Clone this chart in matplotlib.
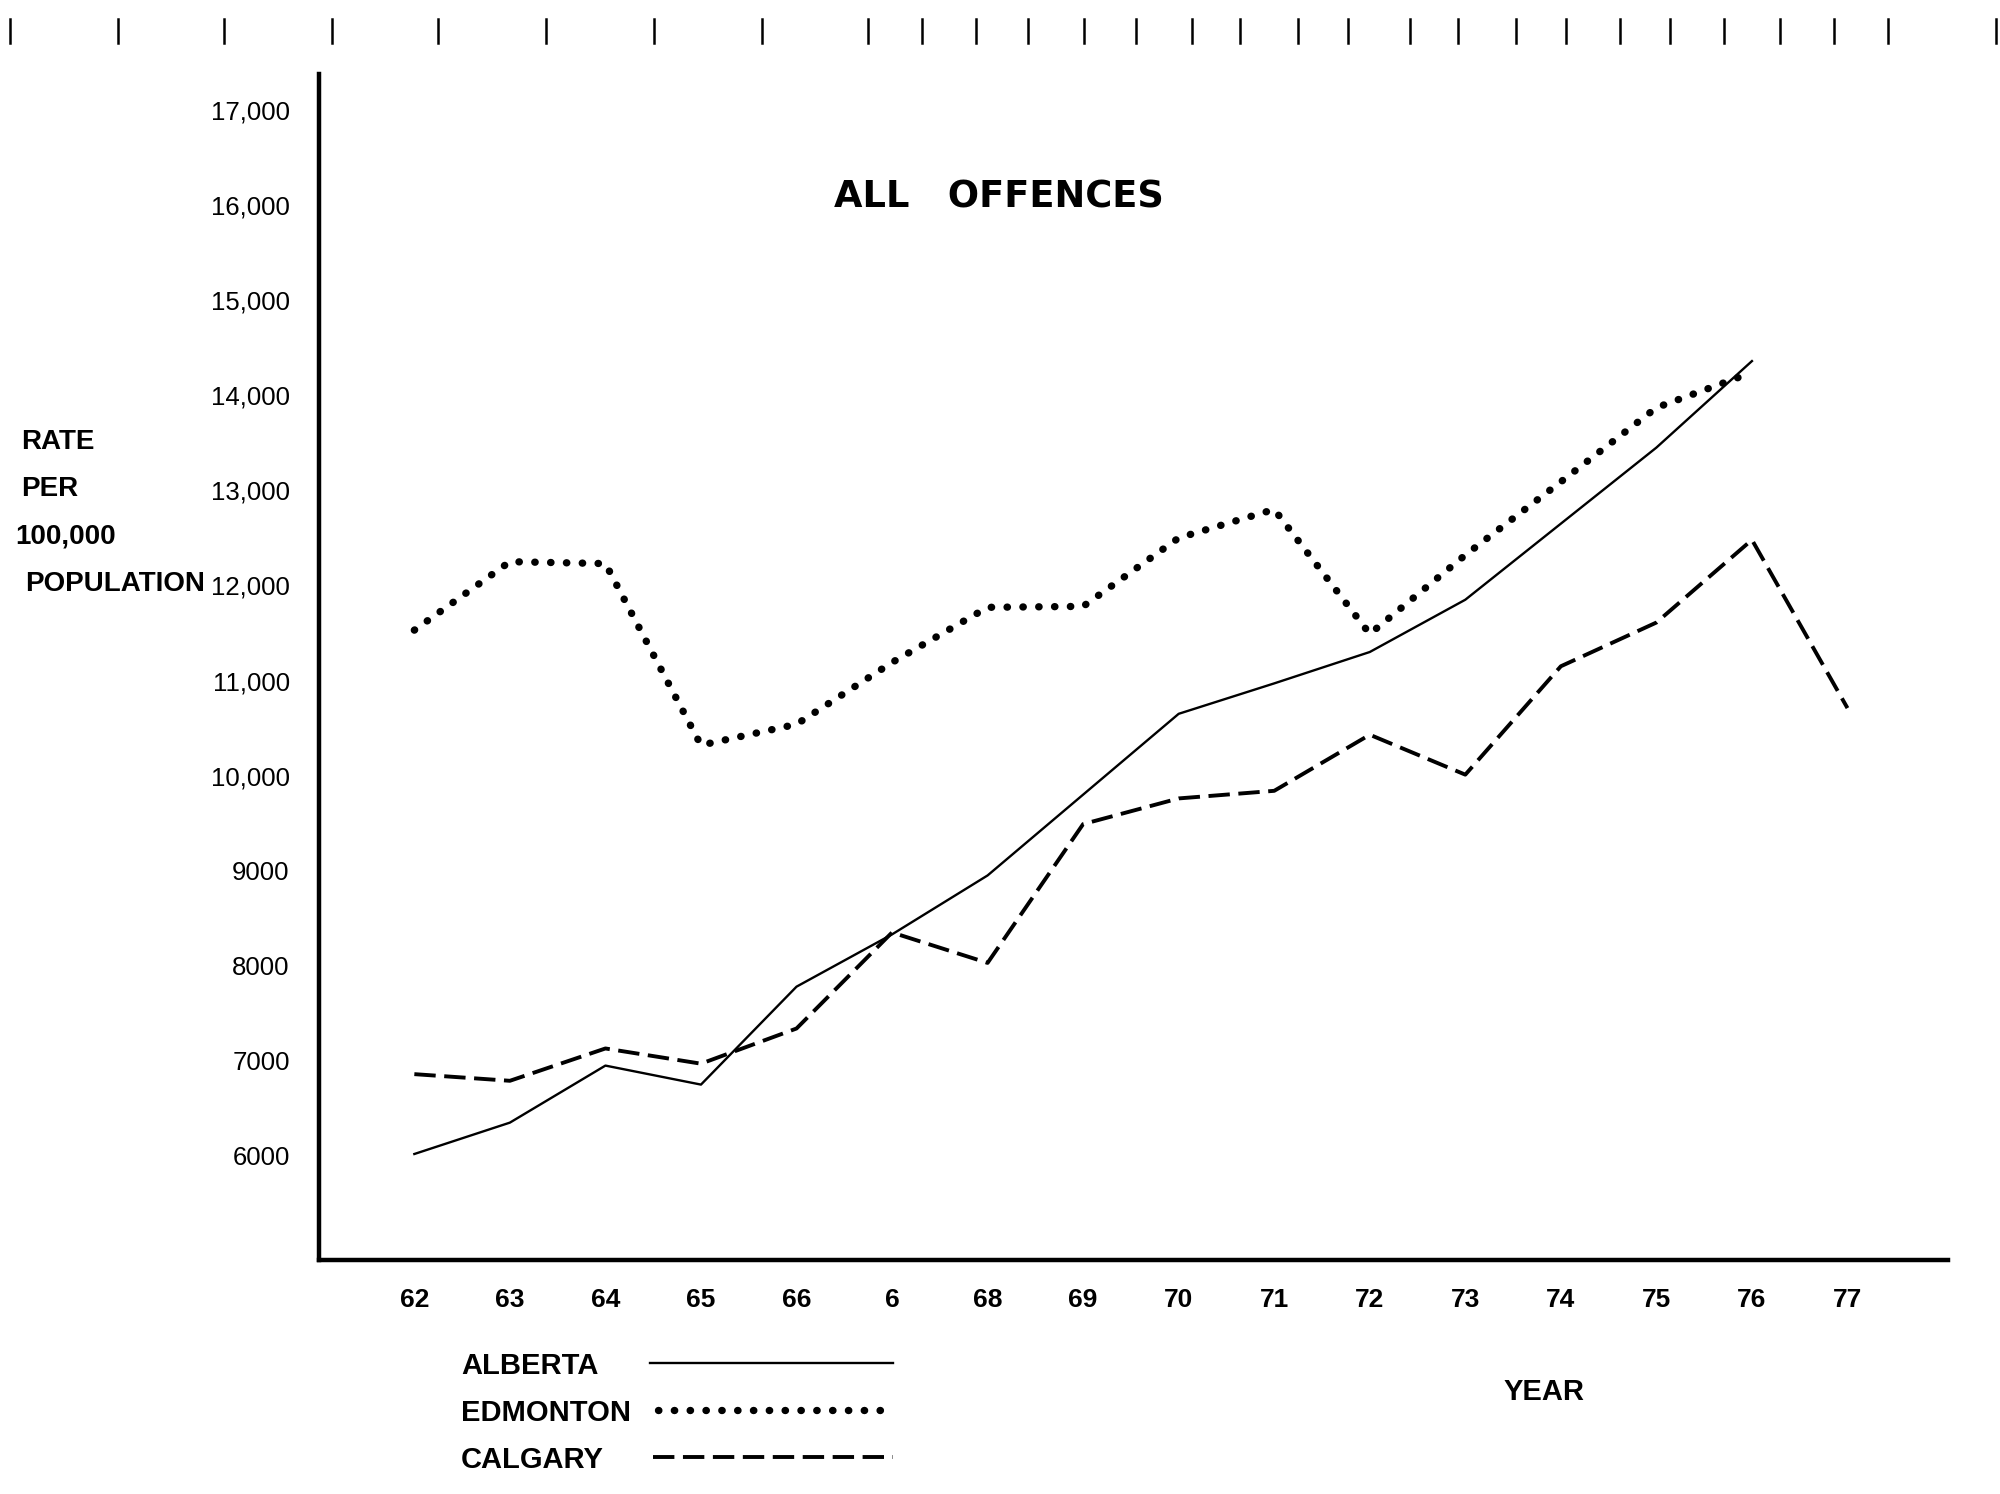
import matplotlib
matplotlib.use("Agg")
import matplotlib.pyplot as plt
from matplotlib.lines import Line2D

# Data (rate per 100,000 population)
YEARS = [62, 63, 64, 65, 66, 67, 68, 69, 70, 71, 72, 73, 74, 75, 76, 77]
XLABELS = ["62", "63", "64", "65", "66", "6", "68", "69", "70", "71",
           "72", "73", "74", "75", "76", "77"]
ALBERTA = [6020, 6350, 6950, 6750, 7780, 8330, 8950, 9800, 10650, 10970,
           11300, 11850, 12650, 13450, 14360]
EDMONTON = [11530, 12250, 12230, 10320, 10540, 11190, 11770, 11780, 12500,
            12800, 11490, 12320, 13090, 13870, 14240]
CALGARY = [6860, 6790, 7130, 6970, 7340, 8350, 8030, 9490, 9760, 9840,
           10430, 10010, 11150, 11610, 12480, 10710]
YTICKS = [6000, 7000, 8000, 9000, 10000, 11000, 12000, 13000, 14000,
          15000, 16000, 17000]
YLABELS = ["6000", "7000", "8000", "9000", "10,000", "11,000", "12,000",
           "13,000", "14,000", "15,000", "16,000", "17,000"]

SOLID = dict(color="black", lw=1.7, ls="-")
DOTTED = dict(color="black", lw=5.3, ls=(0, (0.05, 2.1)),
              dash_capstyle="round")
DASHED = dict(color="black", lw=2.8, ls=(0, (5.5, 2.2)))

plt.rcParams["font.family"] = ["Liberation Sans", "DejaVu Sans"]

fig = plt.figure(figsize=(20, 14.94), dpi=100)
ax = fig.add_axes([0.1594, 0.1563, 0.8145, 0.7942])

ax.plot(YEARS[:len(ALBERTA)], ALBERTA, **SOLID)
ax.plot(YEARS[:len(EDMONTON)], EDMONTON, **DOTTED)
ax.plot(YEARS, CALGARY, **DASHED)

ax.set_xlim(61.0, 78.05)
ax.set_ylim(4900, 17380)
ax.set_xticks(YEARS)
ax.set_xticklabels(XLABELS, fontsize=19, fontweight="bold")
ax.set_yticks(YTICKS)
ax.set_yticklabels(YLABELS, fontsize=18.5)
ax.tick_params(length=0)
ax.tick_params(axis="x", pad=20)
ax.tick_params(axis="y", pad=21)
for s in ["top", "right"]:
    ax.spines[s].set_visible(False)
for s in ["left", "bottom"]:
    ax.spines[s].set_linewidth(3.2)

fig.text(0.4995, 0.868, "ALL   OFFENCES", fontsize=26.5, fontweight="bold",
         ha="center", va="center", family="DejaVu Sans")

# y-axis caption block
for txt, x, y in [("RATE", 0.0105, 0.704), ("PER", 0.0105, 0.673),
                  ("100,000", 0.0075, 0.641), ("POPULATION", 0.0125, 0.609)]:
    fig.text(x, y, txt, fontsize=20, fontweight="bold", va="center")

fig.text(0.772, 0.068, "YEAR", fontsize=21, fontweight="bold",
         ha="center", va="center")

# hand-drawn legend below the axis
legend = [("ALBERTA", 0.0855, SOLID, 0.325),
          ("EDMONTON", 0.0540, DOTTED, 0.3290),
          ("CALGARY", 0.0230, DASHED, 0.3265)]
for name, y, style, x0 in legend:
    fig.text(0.2305, y, name, fontsize=21, fontweight="bold", va="center")
    fig.add_artist(Line2D([x0, 0.4465], [y + 0.002, y + 0.002],
                          transform=fig.transFigure, **style))

# ruler marks along the top edge of the scanned page
for xm in [0.005, 0.059, 0.112, 0.166, 0.219, 0.273, 0.327, 0.381, 0.434,
           0.461, 0.488, 0.514, 0.542, 0.568, 0.596, 0.620, 0.649, 0.674,
           0.705, 0.729, 0.758, 0.783, 0.810, 0.835, 0.862, 0.890, 0.917,
           0.944, 0.998]:
    fig.add_artist(Line2D([xm, xm], [0.971, 0.987], color="black", lw=1.8,
                          transform=fig.transFigure))

fig.savefig("out.png", dpi=100, facecolor="white")
